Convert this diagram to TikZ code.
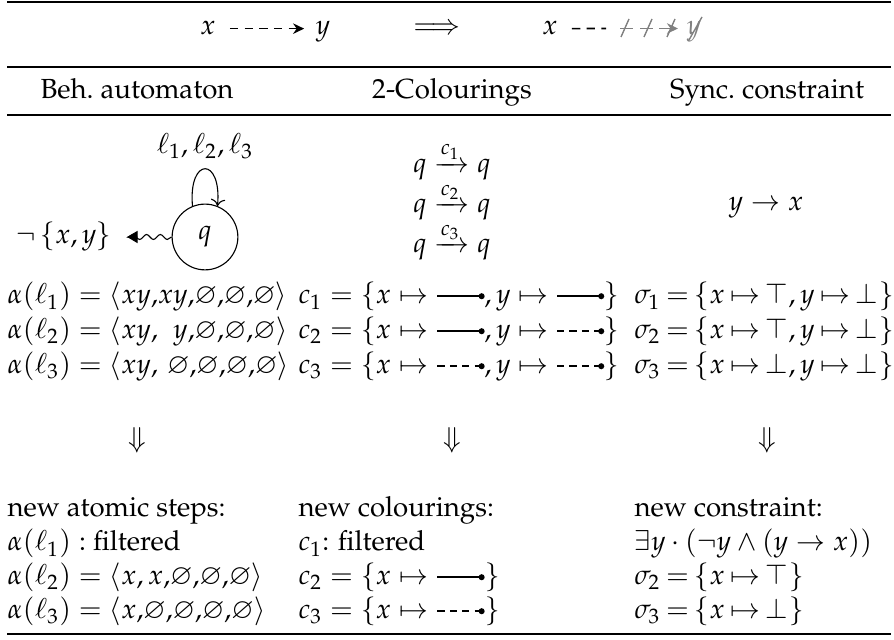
\documentclass[tikz,border=0pt]{standalone}
\usepackage[T1]{fontenc}
\usepackage{mathpazo}
\usepackage{amsmath}
\usepackage{amssymb}
\usetikzlibrary{positioning, arrows.meta, decorations.pathmorphing}

\newcommand{\colsolid}{\tikz[baseline=-0.6ex]{\draw[line width=0.6pt] (0pt,0pt) -- (16pt,0pt); \fill (16pt,0pt) circle (1.1pt);}}
\newcommand{\coldash}{\tikz[baseline=-0.6ex]{\draw[line width=0.6pt, dash pattern=on 2.6pt off 1.9pt] (0pt,0pt) -- (16pt,0pt); \fill (16pt,0pt) circle (1.1pt);}}

\begin{document}
\begin{tikzpicture}[x=0.362pt, y=-0.362pt,
    txt/.style={inner sep=0pt, anchor=base west},
    val/.style={txt, execute at begin node={\thickmuskip=3.5mu}},
    head/.style={inner sep=0pt, anchor=base},
    qstate/.style={circle, draw, inner sep=0pt, minimum size=23.8pt},
    rulethick/.style={line width=0.8pt},
    rulethin/.style={line width=0.5pt},
    wavy/.style={-{Triangle[length=3.8pt,width=4.4pt]}, shorten >=5.4pt, decorate,
        decoration={snake, amplitude=0.9pt, segment length=5pt, post length=3.5pt}}
]
\useasboundingbox (0,0) rectangle (894,640);

% table rules
\draw[rulethick] (7,2) -- (891,2);
\draw[rulethin] (7,67) -- (891,67);
\draw[rulethin] (7,115) -- (891,115);
\draw[rulethick] (7,634) -- (891,634);

% dependency before / after
\node[head] (xa) at (208,35) {$x$};
\node[head] (ya) at (323,35) {$y$};
\draw[line width=0.6pt, dash pattern=on 3pt off 2.3pt, -{Stealth[length=4pt,width=3.8pt]}]
    ([xshift=5pt,yshift=2.3pt]xa.base east) -- ([xshift=-4pt,yshift=2.3pt]ya.base west);
\node[head] (imp) at (437,35) {$\Longrightarrow$};
\node[head] (xb) at (550,35) {$x$};
\coordinate (cut) at (606,28.5);
\draw[line width=0.6pt, dash pattern=on 3pt off 2.3pt] ([xshift=5pt,yshift=2.3pt]xb.base east) -- (cut);
\begin{scope}[gray, line width=0.5pt]
  \draw (620,28.5) -- (633,28.5);  \draw (621,37) -- (629,19);
  \draw (640,28.5) -- (653,28.5);  \draw (644,37) -- (652,19);
  \draw[-{Stealth[length=4pt,width=3.8pt]}] (659,28.5) -- (678,28.5);  \draw (667,37) -- (675,19);
  \node[head, text=gray] (yb) at (694,35) {$y$};
  \draw (689,40) -- (702,17);
\end{scope}

% column heads
\node[head] (hbeh) at (137,99) {Beh.\ automaton};
\node[head] (hcol) at (452,99) {2-Colourings};
\node[head] (hsync) at (767,99) {Sync.\ constraint};

% behavioural automaton
\node[qstate] (q) at (205,237) {$q$};
\node[inner sep=0pt, left=21.5pt of q] (neg) {$\neg\,\{x,y\}$};
\node[inner sep=0pt, above=16pt of q] (lbl) {$\ell_1,\ell_2,\ell_3$};
\draw[->] (q.112) .. controls +(95:18pt) and +(85:18pt) .. (q.68);
\draw[wavy] (q) -- (neg);

% colourings and constraint
\node[head] (t1) at (452,173) {$q \xrightarrow{c_1} q$};
\node[head] (t2) at (452,213) {$q \xrightarrow{c_2} q$};
\node[head] (t3) at (452,253) {$q \xrightarrow{c_3} q$};
\node[head] (sync) at (766,211) {$y \to x$};

% atomic steps, colourings, valuations
\node[txt] (a1) at (7,304) {$\alpha(\ell_1) = \langle xy{,}xy{,}\varnothing{,}\varnothing{,}\varnothing\rangle$};
\node[txt] (a2) at (7,339) {$\alpha(\ell_2) = \langle xy{,}\;\;y{,}\varnothing{,}\varnothing{,}\varnothing\rangle$};
\node[txt] (a3) at (7,374) {$\alpha(\ell_3) = \langle xy,\,\varnothing{,}\varnothing{,}\varnothing{,}\varnothing\rangle$};
\node[txt] (c1) at (298,304) {$c_1 = \{x \mapsto \colsolid, y \mapsto \colsolid\}$};
\node[txt] (c2) at (298,339) {$c_2 = \{x \mapsto \colsolid, y \mapsto \coldash\}$};
\node[txt] (c3) at (298,374) {$c_3 = \{x \mapsto \coldash, y \mapsto \coldash\}$};
\node[val] (s1) at (634,304) {$\sigma_1 = \{x \mapsto \top, y \mapsto \bot\}$};
\node[val] (s2) at (634,339) {$\sigma_2 = \{x \mapsto \top, y \mapsto \bot\}$};
\node[val] (s3) at (634,374) {$\sigma_3 = \{x \mapsto \bot, y \mapsto \bot\}$};

% projection
\node (d1) at (137,440) {$\Downarrow$};
\node (d2) at (452,440) {$\Downarrow$};
\node (d3) at (767,440) {$\Downarrow$};

% results
\node[txt] (n1) at (7,517) {new atomic steps:};
\node[txt] (n2) at (298,517) {new colourings:};
\node[txt] (n3) at (634,517) {new constraint:};
\node[txt] (r1) at (7,551) {$\alpha(\ell_1):$ filtered};
\node[txt] (r2) at (7,585) {$\alpha(\ell_2) = \langle x,x{,}\varnothing{,}\varnothing{,}\varnothing\rangle$};
\node[txt] (r3) at (7,619) {$\alpha(\ell_3) = \langle x{,}\varnothing{,}\varnothing{,}\varnothing{,}\varnothing\rangle$};
\node[txt] (e1) at (298,551) {$c_1$: filtered};
\node[txt] (e2) at (298,585) {$c_2 = \{x \mapsto \colsolid\}$};
\node[txt] (e3) at (298,619) {$c_3 = \{x \mapsto \coldash\}$};
\node[txt] (g1) at (634,551) {$\exists y \cdot (\neg y \wedge (y \to x))$};
\node[val] (g2) at (634,585) {$\sigma_2 = \{x \mapsto \top\}$};
\node[val] (g3) at (634,619) {$\sigma_3 = \{x \mapsto \bot\}$};
\end{tikzpicture}
\end{document}
